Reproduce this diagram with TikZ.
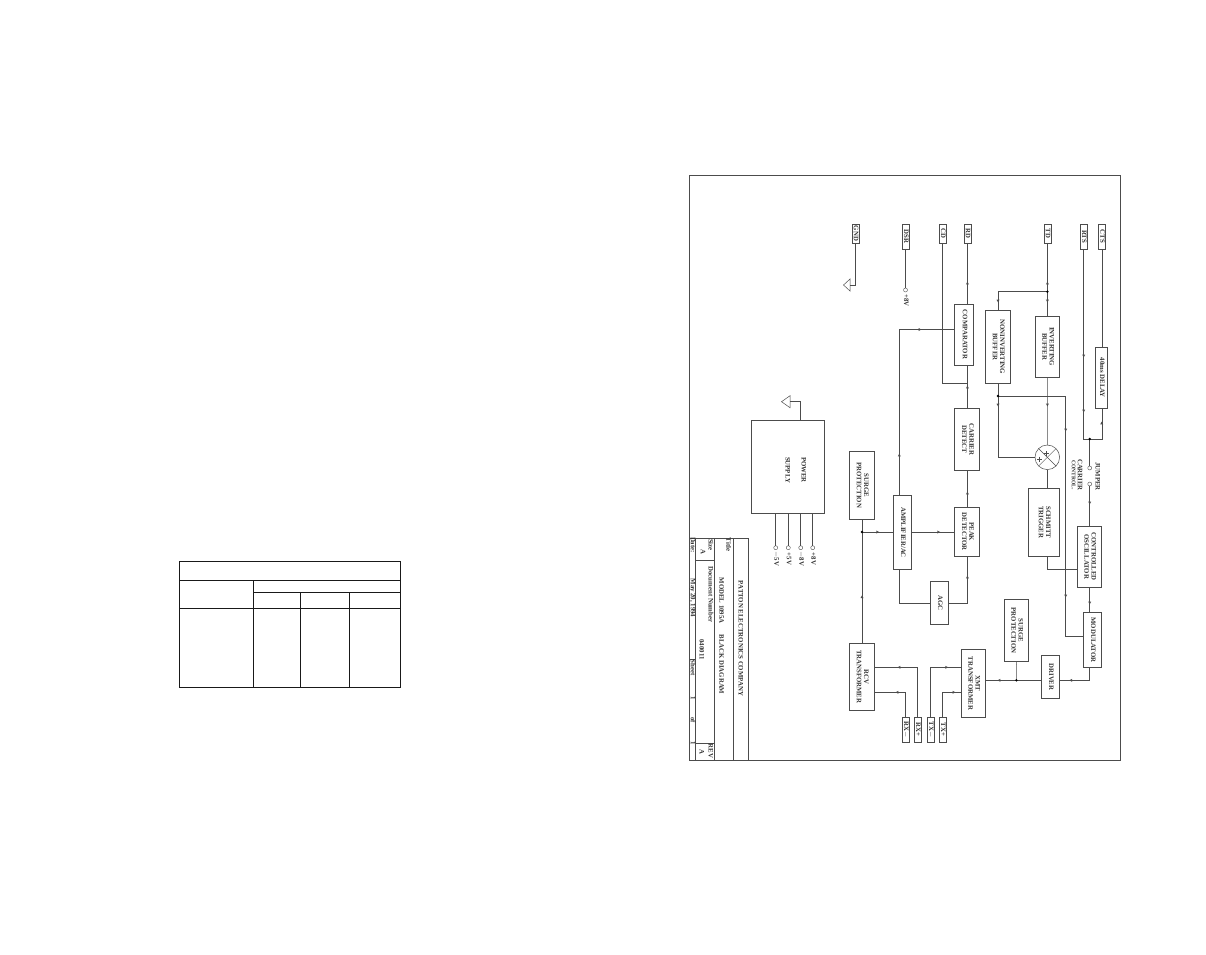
\documentclass[tikz,border=0pt]{standalone}
\usepackage{fontspec}
\usepackage{graphicx}
\setmainfont{Liberation Serif}
\newcommand{\vtxt}[2][6.8]{\rotatebox{-90}{\fontsize{#1}{7.2}\bfseries\selectfont\begin{tabular}{@{}c@{}}#2\end{tabular}}}
\definecolor{ink}{gray}{0.3}
\tikzset{
  bx/.style={draw=ink,line width=0.5pt,inner sep=0pt,outer sep=0pt,fill=white},
  ln/.style={draw=ink,line width=0.5pt},
  tbl/.style={draw=black!90,line width=1pt},
  hole/.style={circle,draw=ink,line width=0.4pt,inner sep=0pt,minimum size=4pt,outer sep=0pt},
  txt/.style={inner sep=0pt,outer sep=0pt,text=black!80},
  jdot/.style={circle,fill=black,inner sep=0pt,minimum size=2.6pt}
}
\newcommand{\bxn}[6]{\node[bx,text=black!80,minimum width={(#4-#2)*1pt},minimum height={(#5-#3)*1pt}] (#1) at ({(#2+#4)/2},{(#3+#5)/2}) {\vtxt{#6}};}
\newcommand{\tl}[3]{\node[txt] at (#1,#2) {\vtxt{#3}};}
\newcommand{\mkd}[2]{\fill[ink] (#1-1.5,#2-1.4)--(#1+1.5,#2-1.4)--(#1,#2+1.4)--cycle;}
\newcommand{\mku}[2]{\fill[ink] (#1-1.5,#2+1.4)--(#1+1.5,#2+1.4)--(#1,#2-1.4)--cycle;}
\newcommand{\mkl}[2]{\fill[ink] (#1+1.4,#2-1.5)--(#1+1.4,#2+1.5)--(#1-1.4,#2)--cycle;}
\newcommand{\mkr}[2]{\fill[ink] (#1-1.4,#2-1.5)--(#1-1.4,#2+1.5)--(#1+1.4,#2)--cycle;}
\begin{document}
\begin{tikzpicture}[x=1pt,y=-1pt]
\useasboundingbox (0,0) rectangle (1206,954);
\fill[white] (0,0) rectangle (1206,954);
% table at left
\draw[tbl] (179.5,561.5) rectangle (400.5,687.5);
\draw[tbl] (179.5,580.5) -- (400.5,580.5);
\draw[tbl] (253.5,592.5) -- (400.5,592.5);
\draw[tbl] (179.5,608.5) -- (400.5,608.5);
\draw[tbl] (253.5,580.5) -- (253.5,687.5);
\draw[tbl] (300.5,592.5) -- (300.5,687.5);
\draw[tbl] (349.5,592.5) -- (349.5,687.5);
% frame
\draw[ln] (689,175.5) rectangle (1120.5,760.5);
% title block
\draw[ln] (689,538.7) -- (748.3,538.7) -- (748.3,760.5);
\draw[ln] (733.3,538.7) -- (733.3,760.5);
\draw[ln] (714.3,538.7) -- (714.3,760.5);
\draw[ln] (695.7,538.7) -- (695.7,760.5);
\draw[ln] (695.7,560.7) -- (714.3,560.7);
\draw[ln] (695.7,743.3) -- (714.3,743.3);
\draw[ln] (689,659.3) -- (695.7,659.3);
\tl{740}{638.5}{PATTON ELECTRONICS COMPANY}
\tl{727.7}{544.5}{Title}
\tl{720.7}{636}{MODEL 1095A\hspace{1.6em}BLACK DIAGRAM}
\tl{710}{545}{Size}
\tl{702.3}{551.7}{A}
\tl{710}{594.5}{Document Number}
\tl{701}{649.5}{040011}
\tl{710}{751}{REV}
\tl{701}{751.7}{A}
\tl{692.3}{545}{Date:}
\tl{692.3}{598}{May 20, 1994}
\tl{692.3}{667.5}{Sheet}
\tl{692.3}{698}{1}
\tl{692.3}{720}{of}
\tl{692.3}{743}{1}
% pins
\bxn{gnd}{852.3}{224}{858.5}{243}{GND}
\bxn{dsr}{902.3}{224}{908.7}{249}{DSR}
\bxn{cd}{939.3}{224}{945.7}{243}{CD}
\bxn{rd}{964.3}{224}{970.5}{243}{RD}
\bxn{td}{1044.3}{224}{1050.5}{243}{TD}
\bxn{rts}{1080.3}{224}{1086.7}{249}{RTS}
\bxn{cts}{1098.7}{224}{1105}{249}{CTS}
\bxn{rxm}{902.3}{717}{908.7}{742}{RX$-$}
\bxn{rxp}{914.3}{717}{920.7}{742}{RX+}
\bxn{txm}{927.3}{717}{933.7}{742}{TX$-$}
\bxn{txp}{939.3}{717}{945.7}{742}{TX+}
% blocks
\bxn{comp}{954.7}{304}{973.7}{365}{COMPARATOR}
\bxn{nonb}{985.3}{310}{1010.7}{383.7}{NONINVERTING\\BUFFER}
\bxn{invb}{1035}{316}{1059.7}{377.3}{INVERTING\\BUFFER}
\bxn{delay}{1095.3}{347.3}{1107.7}{408.3}{40ms DELAY}
\bxn{cdet}{954.7}{408.3}{979.7}{470.3}{CARRIER\\DETECT}
\bxn{peak}{954.7}{507.3}{979.7}{556.3}{PEAK\\DETECTOR}
\bxn{amp}{893.3}{495.7}{911.7}{569.3}{AMPLIFIER/AC}
\bxn{surgea}{849.3}{451.3}{874.7}{519.3}{SURGE\\PROTECTION}
\bxn{schm}{1028.3}{488.3}{1059.7}{556.3}{SCHMITT\\TRIGGER}
\bxn{osc}{1077.3}{526}{1101.7}{587.3}{CONTROLLED\\OSCILLATOR}
\bxn{agc}{930.3}{581.3}{948.7}{624.7}{AGC}
\bxn{mod}{1083.3}{612.3}{1101.7}{667.7}{MODULATOR}
\bxn{surgeb}{1004.3}{599.3}{1028.7}{661.7}{SURGE\\PROTECTION}
\bxn{drv}{1041.3}{655.3}{1059.7}{698.7}{DRIVER}
\bxn{xmt}{961.3}{649.3}{985.7}{717.7}{XMT\\TRANSFORMER}
\bxn{rcv}{849.3}{643.3}{874.7}{710.3}{RCV\\TRANSFORMER}
\node[bx,minimum width=73.3pt,minimum height=92.7pt] (psu) at (787.65,466.65) {};
\node[txt] at (796,470) {\rotatebox{-90}{\fontsize{6.8}{12}\bfseries\selectfont\begin{tabular}{@{}c@{}}POWER\\[4pt]SUPPLY\end{tabular}}};
% XOR
\node[circle,draw=ink,line width=0.5pt,minimum size=24.6pt,inner sep=0pt,outer sep=0pt] (xor) at (1047.3,457.3) {};
\draw[ln] (xor.north west) -- (xor.south east);
\draw[ln] (xor.north east) -- (xor.south west);
\draw[ln] (1043.8,453.3) -- (1048.8,453.3) (1046.3,450.8) -- (1046.3,455.8);
\draw[ln] (1036.8,459) -- (1041.8,459) (1039.3,456.5) -- (1039.3,461.5);
% holes
\node[hole] (hdsr) at (905.5,290) {};
\node[hole] (ja) at (1089.7,468) {};
\node[hole] (jb) at (1089.7,484) {};
\node[hole] (pa) at (775.7,547.7) {};
\node[hole] (pb) at (788.3,547.7) {};
\node[hole] (pc) at (800.7,547.7) {};
\node[hole] (pd) at (812.7,547.7) {};
\tl{905.5}{300.5}{+8V}
\tl{775.7}{559}{$-$5V}
\tl{788.3}{559}{+5V}
\tl{800.7}{559}{$-$8V}
\tl{812.7}{559}{+8V}
\tl{1097}{476.7}{JUMPER}
\node[txt] at (1079.3,475) {\vtxt{CARRIER}};
\node[txt] at (1073.2,475) {\vtxt[5.5]{CONTROL.}};
% coordinates
\coordinate (jtd) at (1047.4,291.7);
\coordinate (jnb) at (998,396);
\coordinate (jrts) at (1089.7,439);
\coordinate (jamp) at (862,532);
\coordinate (jdrv) at (1016.4,680.3);
\coordinate (jcd) at (967.4,383.7);
\coordinate (gt) at (850,285);
\coordinate (gp) at (790,401.7);
% ground symbols
\draw[ln,fill=white] (gt)++(0,-6) -- ++(-6.5,6) -- ++(6.5,6) -- cycle;
\draw[ln,fill=white] (gp)++(0,-6) -- ++(-8.5,6) -- ++(8.5,6) -- cycle;
% connectors
\draw[ln] (gnd.south) |- (gt);
\draw[ln] (dsr.south) -- (hdsr.north);
\draw[ln] (cd.south) |- (jcd);
\draw[ln] (rd.south) -- (rd.south |- comp.north);
\draw[ln] (comp.south -| rd) -- (cdet.north -| rd);
\draw[ln] (cdet.south -| rd) -- (peak.north -| rd);
\draw[ln] (td.south) -- (td.south |- invb.north);
\draw[ln] (jtd) -| (nonb.north);
\draw[ln] (invb.south -| td) -- (xor.north);
\draw[ln] (xor.south) -- (schm.north -| xor);
\draw[ln] (nonb.south) |- (xor.west);
\draw[ln] (jnb) -| (1065.7,636.7) -- (1083.3,636.7);
\draw[ln] (1047.4,556.3) |- (1077.3,569.3);
\draw[ln] (cts.south) -- (cts.south |- delay.north);
\draw[ln] (cts.south |- delay.south) |- (jrts);
\draw[ln] (rts.south) |- (jrts);
\draw[ln] (jrts) -- (ja.north);
\draw[ln] (jb.south) -- (jb.south |- osc.north);
\draw[ln] (jb.south |- osc.south) -- (jb.south |- mod.north);
\draw[ln] (jb.south |- mod.south) |- (drv.east |- jdrv);
\draw[ln] (drv.west |- jdrv) -- (xmt.east |- jdrv);
\draw[ln] (surgeb.south) -- (jdrv);
\draw[ln] (comp.west |- 0,329.5) -| (899.3,495.7);
\draw[ln] (rd.south |- peak.south) |- (agc.east);
\draw[ln] (agc.west) -| (899.3,569.3);
\draw[ln] (amp.east |- jamp) -- (peak.west |- jamp);
\draw[ln] (amp.west |- jamp) -- (jamp);
\draw[ln] (surgea.south -| jamp) -- (rcv.north -| jamp);
\draw[ln] (874.7,667.3) -| (rxp.north);
\draw[ln] (874.7,692.3) -| (rxm.north);
\draw[ln] (961.3,667.3) -| (txm.north);
\draw[ln] (961.3,692.3) -| (txp.north);
\draw[ln] (800.7,420.3) |- (gp);
\draw[ln] (775.7,513) -- (pa.north);
\draw[ln] (788.3,513) -- (pb.north);
\draw[ln] (800.7,513) -- (pc.north);
\draw[ln] (812.7,513) -- (pd.north);
% junctions
\node[jdot] at (jtd) {};
\node[jdot] at (jnb) {};
\node[jdot] at (jrts) {};
\node[jdot] at (jamp) {};
\node[jdot] at (jdrv) {};
% arrow marks
\mku{967.4}{283}
\mku{967.4}{387}
\mku{967.4}{493}
\mku{967.4}{577}
\mku{1047.4}{283}
\mkd{1047.4}{301}
\mkd{998}{301}
\mkd{998}{405}
\mkd{1047.4}{405}
\mkd{1065.7}{430}
\mkd{1065.7}{596}
\mkr{920}{329.5}
\mku{899.3}{455}
\mkr{938.7}{532}
\mkr{877.7}{532}
\mku{862}{596.7}
\mkd{1083.7}{356}
\mkd{1083.7}{411}
\mku{1101.7}{423}
\mkd{1089.7}{503}
\mkd{1089.7}{603}
\mkl{1070.7}{680.3}
\mkl{999}{680.3}
\mkl{899}{667.3}
\mkl{897}{692.3}
\mkr{946.7}{667.3}
\mkr{954}{692.3}
\end{tikzpicture}
\end{document}
